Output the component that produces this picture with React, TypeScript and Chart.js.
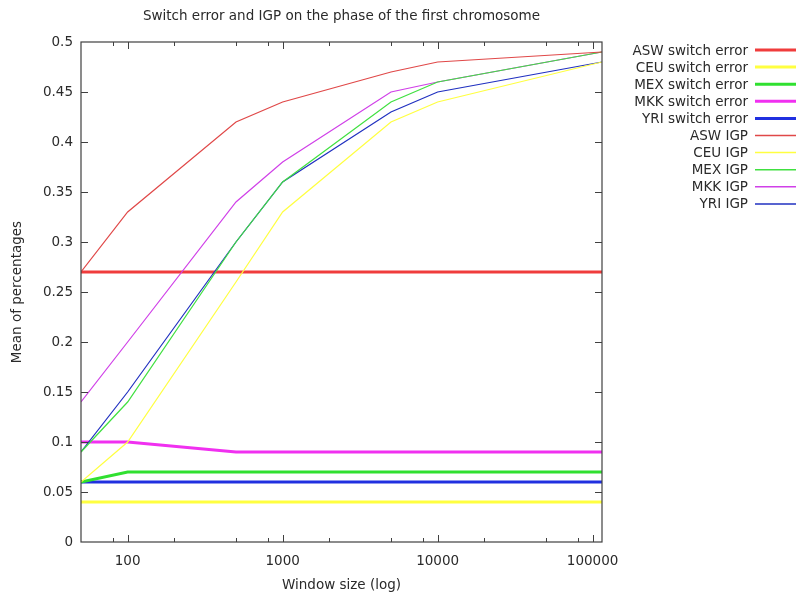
import { useEffect, useRef } from "react";
import { Chart, registerables } from "chart.js";

Chart.register(...registerables);

const chartTitle = "Switch error and IGP on the phase of the first chromosome";
const xAxisTitle = "Window size (log)";
const yAxisTitle = "Mean of percentages";

const windowSizes = [50, 100, 500, 1000, 5000, 10000, 115000];

const aswSwitch = [0.27, 0.27, 0.27, 0.27, 0.27, 0.27, 0.27];
const ceuSwitch = [0.04, 0.04, 0.04, 0.04, 0.04, 0.04, 0.04];
const mexSwitch = [0.06, 0.07, 0.07, 0.07, 0.07, 0.07, 0.07];
const mkkSwitch = [0.1, 0.1, 0.09, 0.09, 0.09, 0.09, 0.09];
const yriSwitch = [0.06, 0.06, 0.06, 0.06, 0.06, 0.06, 0.06];

const aswIgp = [0.27, 0.33, 0.42, 0.44, 0.47, 0.48, 0.49];
const ceuIgp = [0.06, 0.1, 0.26, 0.33, 0.42, 0.44, 0.48];
const mexIgp = [0.09, 0.14, 0.3, 0.36, 0.44, 0.46, 0.49];
const mkkIgp = [0.14, 0.2, 0.34, 0.38, 0.45, 0.46, 0.49];
const yriIgp = [0.09, 0.15, 0.3, 0.36, 0.43, 0.45, 0.48];

const xMajorTicks = [100, 1000, 10000, 100000];
const xMinorTicks = [80, 200, 500, 800, 2000, 5000, 8000, 20000, 50000, 80000];
const xMin = 50;
const xMax = 115000;
const yMin = 0;
const yMax = 0.5;
const yStep = 0.05;

const FONT = "'DejaVu Sans', Verdana, sans-serif";
const TEXT = "#2a2a2a";

type Series = { label: string; values: number[]; color: string; thick: boolean };

const series: Series[] = [
  { label: "ASW switch error", values: aswSwitch, color: "#f03c3c", thick: true },
  { label: "CEU switch error", values: ceuSwitch, color: "#ffff40", thick: true },
  { label: "MEX switch error", values: mexSwitch, color: "#30e030", thick: true },
  { label: "MKK switch error", values: mkkSwitch, color: "#f030f0", thick: true },
  { label: "YRI switch error", values: yriSwitch, color: "#2030e0", thick: true },
  { label: "ASW IGP", values: aswIgp, color: "#e04848", thick: false },
  { label: "CEU IGP", values: ceuIgp, color: "#ffff40", thick: false },
  { label: "MEX IGP", values: mexIgp, color: "#40e040", thick: false },
  { label: "MKK IGP", values: mkkIgp, color: "#d040e8", thick: false },
  { label: "YRI IGP", values: yriIgp, color: "#2030c0", thick: false },
];

const decorPlugin = {
  id: "decor",
  afterDatasetsDraw(chart: any) {
    const { ctx, chartArea } = chart;
    const { left, right, top, bottom } = chartArea;
    const xs = chart.scales.x;
    const ys = chart.scales.y;
    ctx.save();
    ctx.strokeStyle = "#404040";
    ctx.lineWidth = 1.2;
    ctx.strokeRect(left, top, right - left, bottom - top);
    ctx.beginPath();
    const major = 7;
    const minor = 4;
    for (const v of xMajorTicks) {
      const px = Math.round(xs.getPixelForValue(v)) + 0.5;
      ctx.moveTo(px, bottom);
      ctx.lineTo(px, bottom - major);
      ctx.moveTo(px, top);
      ctx.lineTo(px, top + major);
    }
    for (const v of xMinorTicks) {
      const px = Math.round(xs.getPixelForValue(v)) + 0.5;
      ctx.moveTo(px, bottom);
      ctx.lineTo(px, bottom - minor);
      ctx.moveTo(px, top);
      ctx.lineTo(px, top + minor);
    }
    for (let v = yMin + yStep; v < yMax - 1e-9; v += yStep) {
      const py = Math.round(ys.getPixelForValue(v)) + 0.5;
      ctx.moveTo(left, py);
      ctx.lineTo(left + major, py);
      ctx.moveTo(right, py);
      ctx.lineTo(right - major, py);
    }
    ctx.lineWidth = 1;
    ctx.stroke();

    ctx.fillStyle = TEXT;
    ctx.font = `13.5px ${FONT}`;
    ctx.textAlign = "center";
    ctx.textBaseline = "middle";
    const cx = (left + right) / 2;
    ctx.fillText(chartTitle, cx, 16);
    ctx.fillText(xAxisTitle, cx, 585);
    ctx.save();
    ctx.translate(17, (top + bottom) / 2);
    ctx.rotate(-Math.PI / 2);
    ctx.fillText(yAxisTitle, 0, 0);
    ctx.restore();

    ctx.textAlign = "right";
    const rowY0 = 50;
    const rowStep = 17.1;
    series.forEach((s, i) => {
      const y = rowY0 + i * rowStep;
      ctx.fillStyle = TEXT;
      ctx.fillText(s.label, 748, y + 1);
      ctx.beginPath();
      ctx.strokeStyle = s.color;
      ctx.lineWidth = s.thick ? 3 : 1.5;
      ctx.moveTo(755, y);
      ctx.lineTo(796, y);
      ctx.stroke();
    });
    ctx.restore();
  },
};

export default function App() {
  const ref = useRef<HTMLCanvasElement | null>(null);
  useEffect(() => {
    if (!ref.current) return;
    const datasets = series.map((s) => ({
      label: s.label,
      data: windowSizes.map((x, i) => ({ x, y: s.values[i] })),
      borderColor: s.color,
      backgroundColor: s.color,
      borderWidth: s.thick ? 3 : 1.2,
      pointRadius: 0,
      tension: 0,
      fill: false,
      order: s.thick ? 1 : 0,
    }));
    const chart = new Chart(ref.current, {
      type: "line",
      data: { datasets },
      options: {
        animation: false,
        responsive: false,
        devicePixelRatio: 1,
        layout: { padding: { left: 0, right: 196, top: 42, bottom: 0 } },
        plugins: {
          legend: { display: false },
          title: { display: false },
          tooltip: { enabled: false },
        },
        scales: {
          x: {
            type: "logarithmic",
            min: xMin,
            max: xMax,
            grid: { display: false, drawTicks: false },
            border: { display: false },
            afterBuildTicks: (scale: any) => {
              scale.ticks = xMajorTicks.map((v) => ({ value: v }));
            },
            afterFit: (scale: any) => {
              scale.height = 51;
            },
            ticks: {
              autoSkip: false,
              maxRotation: 0,
              padding: 11,
              color: TEXT,
              font: { family: FONT, size: 13.5 },
              callback: (v: any) => String(v),
            },
          },
          y: {
            type: "linear",
            min: yMin,
            max: yMax,
            grid: { display: false, drawTicks: false },
            border: { display: false },
            afterFit: (scale: any) => {
              scale.width = 81;
            },
            ticks: {
              stepSize: yStep,
              padding: 8,
              color: TEXT,
              font: { family: FONT, size: 13.5 },
              callback: (v: any) => String(Math.round(Number(v) * 100) / 100),
            },
          },
        },
      },
      plugins: [decorPlugin],
    });
    return () => chart.destroy();
  }, []);
  return (
    <div style={{ position: "fixed", left: 0, top: 0, width: 798, height: 593, background: "#fff" }}>
      <canvas ref={ref} width={798} height={593} />
    </div>
  );
}
